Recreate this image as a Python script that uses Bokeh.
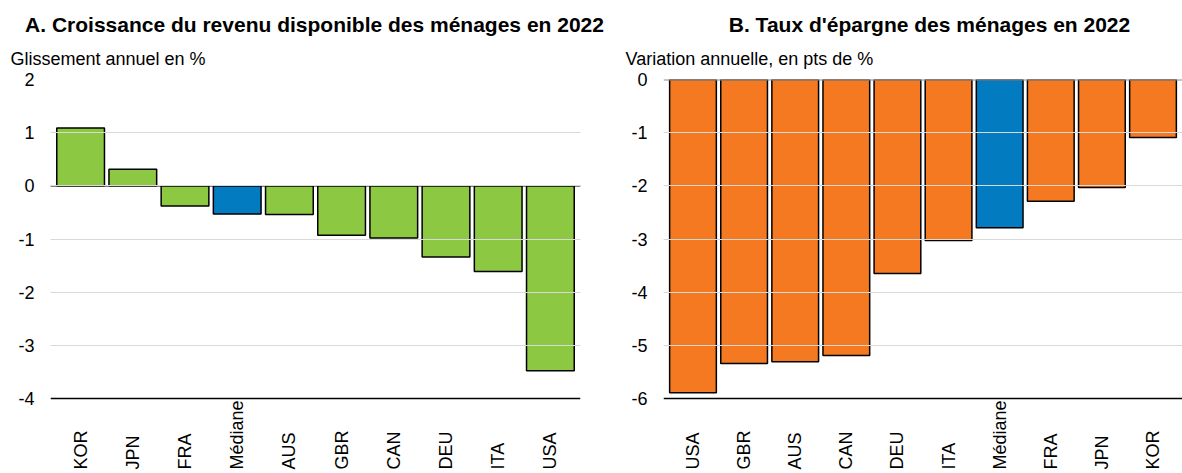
import math
from bokeh.plotting import figure
from bokeh.models import FactorRange, Range1d, Span, FixedTicker
from bokeh.layouts import row, column
from bokeh.core.properties import value
from bokeh.embed import file_html
from bokeh.resources import INLINE

# ---- data ----
cats_a = ["KOR", "JPN", "FRA", "Médiane", "AUS", "GBR", "CAN", "DEU", "ITA", "USA"]
vals_a = [1.09, 0.31, -0.38, -0.53, -0.54, -0.93, -0.98, -1.34, -1.61, -3.48]
cats_b = ["USA", "GBR", "AUS", "CAN", "DEU", "ITA", "Médiane", "FRA", "JPN", "KOR"]
vals_b = [-5.89, -5.34, -5.31, -5.19, -3.65, -3.03, -2.79, -2.29, -2.03, -1.09]
ticks_a = [-4, -3, -2, -1, 0, 1, 2]
ticks_b = [-6, -5, -4, -3, -2, -1, 0]
titles = ["A. Croissance du revenu disponible des ménages en 2022",
          "B. Taux d'épargne des ménages en 2022"]
units = ["Glissement annuel en %", "Variation annuelle, en pts de %"]

GREEN = "#8CC841"
ORANGE = "#F47920"
BLUE = "#037BC1"
FONT = "Liberation Sans"

W = 1182
HEAD = 69          # header height
H = 473 - HEAD     # panel height
TOP = 10           # border above the plot area
FRAME_PX = 319     # height of the value area (pixels)
BELOW_PX = H - TOP - FRAME_PX   # room for category labels (inside extended frame)
LABEL_PX = 71      # where the (upward-reading) category labels start, below the bottom line


def panel(cats, vals, base_color, ticks, width, b_left, b_right):
    colors = [BLUE if c == "Médiane" else base_color for c in cats]
    lo, hi = min(ticks), max(ticks)
    per_px = (hi - lo) / FRAME_PX
    p = figure(width=width, height=H, output_backend="svg", toolbar_location=None,
               x_range=FactorRange(*cats, range_padding=0.077, range_padding_units="absolute"),
               y_range=Range1d(lo - BELOW_PX * per_px, hi),
               min_border_left=b_left, min_border_right=b_right,
               min_border_top=TOP, min_border_bottom=0)
    p.outline_line_color = None
    p.vbar(x=cats, top=vals, bottom=0, width=0.914, fill_color=colors,
           line_color="black", line_width=1.5)
    p.xaxis.visible = False
    p.xgrid.visible = False
    yax = p.yaxis[0]
    yax.ticker = FixedTicker(ticks=ticks)
    yax.major_label_overrides = {t: str(t) for t in ticks}
    yax.axis_line_color = None
    yax.major_tick_line_color = None
    yax.minor_tick_line_color = None
    yax.major_tick_out = 0
    yax.major_label_standoff = 16
    yax.major_label_text_font = FONT
    yax.major_label_text_font_size = "18px"
    yax.major_label_text_color = "black"
    p.ygrid.ticker = FixedTicker(ticks=[t for t in ticks if t != lo])
    p.ygrid.grid_line_color = "#d9d9d9"
    p.ygrid.grid_line_width = 1
    p.ygrid.level = "overlay"
    # category labels, reading upward, below the bottom line
    p.text(x=cats, y=[lo - LABEL_PX * per_px] * len(cats), text=cats, angle=math.pi / 2,
           text_align="left", text_baseline="middle", text_font=value(FONT),
           text_font_size=value("18px"), text_color="black")
    return p, lo


pa, lo_a = panel(cats_a, vals_a, GREEN, ticks_a, 600, 50, 20)
pa.add_layout(Span(location=0, dimension="width", line_color="black", line_width=1.5))
pa.add_layout(Span(location=lo_a, dimension="width", line_color="black", line_width=1.5))

pb, lo_b = panel(cats_b, vals_b, ORANGE, ticks_b, W - 600, 63, 0)
pb.add_layout(Span(location=0, dimension="width", line_color="#8c8c8c", line_width=2))
pb.add_layout(Span(location=lo_b, dimension="width", line_color="black", line_width=1.5))

# header with titles and units
head = figure(width=W, height=HEAD, output_backend="svg", toolbar_location=None,
              x_range=Range1d(0, W), y_range=Range1d(HEAD, 0),
              min_border=0)
head.axis.visible = False
head.grid.visible = False
head.outline_line_color = None
head.text(x=[314, 929], y=[24, 24], text=titles, text_align="center",
          text_baseline="middle", text_font=value(FONT), text_font_size=value("21px"),
          text_font_style="bold", text_color="black")
head.text(x=[10, 625], y=[58.5, 58.5], text=units, text_align="left",
          text_baseline="middle", text_font=value(FONT), text_font_size=value("18px"),
          text_color="black")

layout = column(head, row(pa, pb))
open("out.html", "w").write(file_html(layout, INLINE))
